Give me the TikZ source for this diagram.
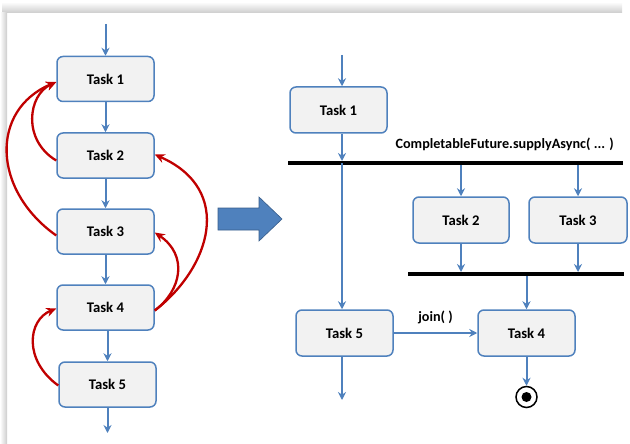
\documentclass[tikz,border=0pt]{standalone}
\usepackage{fontspec}
\setmainfont{Carlito}
\usetikzlibrary{arrows.meta,calc}
\definecolor{boxblue}{HTML}{4F81BD}
\definecolor{boxfill}{HTML}{F2F2F2}
\definecolor{redarr}{HTML}{C00000}
\definecolor{bigarr}{HTML}{4F81BD}
\definecolor{bigarrdark}{HTML}{385D8A}
\tikzset{
  task/.style={draw=boxblue, fill=boxfill, line width=1.5pt, rounded corners=6pt,
    minimum width=97pt, minimum height=45pt, inner sep=0pt, font=\fontsize{14.7}{16}\selectfont\bfseries},
  flow/.style={draw=boxblue, line width=2pt, -{Stealth[length=8pt,width=8pt]}},
  back/.style={draw=redarr, line width=2.3pt, -{Stealth[length=10pt,width=9pt]}},
  bar/.style={draw=black, line width=4pt},
  lbl/.style={inner sep=0pt, font=\fontsize{14.2}{15}\selectfont\bfseries}
}
\begin{document}
\begin{tikzpicture}[x=1pt,y=-1pt]
\useasboundingbox (0,0) rectangle (630,444);
% page shadow
\shade[top color=white, bottom color=black!20] (2,2) rectangle (622,13);
\shade[left color=white, right color=black!20] (0,13) rectangle (7,444);
% ---------- left column ----------
\node[task] (L1) at (105.5,79) {Task 1};
\node[task] (L2) at (105.5,155.5) {Task 2};
\node[task] (L3) at (105.5,231.5) {Task 3};
\node[task] (L4) at (105.5,307.5) {Task 4};
\node[task] (L5) at (107.5,384.5) {Task 5};
\coordinate (Ltop) at (105.5,24);
\coordinate (Lbot) at (107.5,433);
\draw[flow] (Ltop) -- (L1.north);
\draw[flow] (L1.south) -- (L2.north);
\draw[flow] (L2.south) -- (L3.north);
\draw[flow] (L3.south) -- (L4.north);
\draw[flow] (L4.south -| L5.north) -- (L5.north);
\draw[flow] (L5.south) -- (Lbot);
% red back edges
\draw[back] ($(L2.west)+(0,5)$) .. controls (22,140) and (28,95) .. ($(L1.west)+(0,3)$);
\draw[back] ($(L3.west)+(0,4)$) .. controls (-8,190) and (-10,110) .. ($(L1.west)+(0,3)$);
\draw[back] ($(L4.east)+(0,3)$) .. controls (182,290) and (188,255) .. ($(L3.east)+(0,1)$);
\draw[back] ($(L4.east)+(0,3)$) .. controls (210,268) and (235,190) .. ($(L2.east)+(0,-1)$);
\draw[back] ($(L5.west)+(0,1)$) .. controls (23,360) and (28,320) .. ($(L4.west)+(0,1)$);
% ---------- big arrow ----------
\filldraw[fill=bigarr, draw=bigarrdark, line width=0.6pt]
  (218,208) -- (259,208) -- (259,197) -- (282,219) -- (259,241) -- (259,230) -- (218,230) -- cycle;
% ---------- right diagram ----------
\node[task, minimum height=46pt] (R1) at (338.5,110) {Task 1};
\node[task, minimum height=46pt, minimum width=96pt] (R2) at (461,220) {Task 2};
\node[task, minimum height=46pt, minimum width=98pt] (R3) at (578,220) {Task 3};
\node[task, minimum height=46pt] (R4) at (526.5,333) {Task 4};
\node[task, minimum height=46pt] (R5) at (344.5,333) {Task 5};
\coordinate (Rtop) at (342,55);
\coordinate (BarAl) at (288,163);
\coordinate (BarAr) at (623,163);
\coordinate (BarBl) at (408,274);
\coordinate (BarBr) at (624,274);
\coordinate (R5end) at (342,400);
\draw[bar] (BarAl) -- (BarAr);
\draw[bar] (BarBl) -- (BarBr);
\node[lbl, anchor=south east] (sup) at (614,151) {CompletableFuture.supplyAsync( ... )};
\draw[flow] (Rtop) -- (Rtop |- R1.north);
\draw[flow] (Rtop |- R1.south) -- ($(Rtop |- BarAl)+(0,-2)$);
\draw[flow] (Rtop |- BarAl) -- (Rtop |- R5.north);
\draw[flow] ($(R2.north |- BarAl)+(0,2)$) -- (R2.north);
\draw[flow] ($(R3.north |- BarAl)+(0,2)$) -- (R3.north);
\draw[flow] (R2.south) -- ($(R2.south |- BarBl)+(0,-2)$);
\draw[flow] (R3.south) -- ($(R3.south |- BarBl)+(0,-2)$);
\draw[flow] ($(R4.north |- BarBl)+(0,2)$) -- (R4.north);
\draw[flow] (R5.east) -- node[lbl, above=8pt] (joinlbl) {join( )} (R4.west);
\draw[flow] (Rtop |- R5.south) -- (R5end);
% final node
\node[circle, draw=black, line width=1.5pt, fill=white, minimum size=21pt, inner sep=0pt] (endn) at (526.5,397) {};
\node[circle, fill=black, minimum size=10pt, inner sep=0pt] (endin) at (endn.center) {};
\draw[flow] (R4.south) -- (endn.north);
\end{tikzpicture}
\end{document}
